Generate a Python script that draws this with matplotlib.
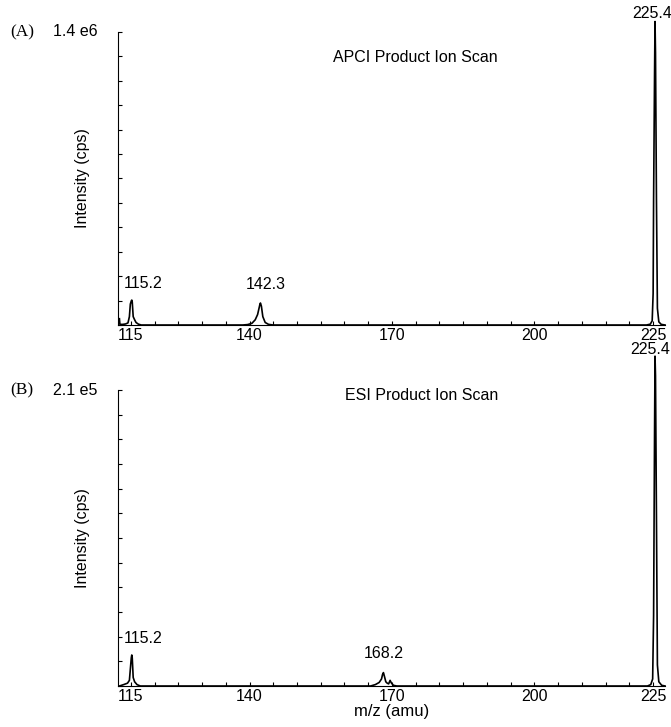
import numpy as np
import matplotlib
matplotlib.use('Agg')
import matplotlib.pyplot as plt
from matplotlib.ticker import MultipleLocator

# spectrum A: APCI product ion scan (m/z, intensity in cps)
mz_apci = [112.6, 112.7, 113.3, 113.9, 114.4, 114.7, 114.9, 115.1, 115.2, 115.3, 115.5, 115.8,
           116.1, 116.6, 117.2, 138.6, 139.6, 140.5, 141.2, 141.7, 142.0, 142.2, 142.3,
           142.5, 142.8, 143.3, 144.0, 145.0, 223.6, 224.4, 224.8, 225.0, 225.1, 225.3,
           225.4, 225.5, 225.7, 225.9, 226.2, 226.7, 227.5]
int_apci = [3e4, 3e3, 3e3, 5e3, 1e4, 4e4, 1.0e5, 1.15e5, 1.19e5, 1.1e5, 4e4, 2.5e4,
            1.2e4, 4e3, 0, 0, 2e3, 8e3, 2.5e4, 5e4, 8e4, 1.0e5, 1.05e5,
            9e4, 4e4, 1.2e4, 3e3, 0, 0, 4e3, 2e4, 1.5e5, 6e5, 1.2e6,
            1.45e6, 1.3e6, 6e5, 8e4, 1.5e4, 3e3, 0]

# spectrum B: ESI product ion scan
mz_esi = [112.6, 113.5, 114.3, 114.7, 114.9, 115.1, 115.2, 115.3, 115.5, 115.8, 116.3,
          117.0, 165.5, 166.5, 167.3, 167.8, 168.0, 168.2, 168.4, 168.7, 169.0, 169.3,
          169.6, 169.9, 170.3, 171.0, 223.8, 224.5, 224.9, 225.1, 225.3, 225.4, 225.5,
          225.7, 225.9, 226.2, 226.8, 227.5]
int_esi = [0, 1e3, 2e3, 4e3, 1.2e4, 2.0e4, 2.2e4, 2.0e4, 6e3, 3e3, 1e3,
           0, 0, 1e3, 2.5e3, 5e3, 8e3, 9.5e3, 7e3, 3e3, 2e3, 1.5e3,
           4e3, 2e3, 500, 0, 0, 1e3, 5e3, 5e4, 1.8e5, 2.34e5, 2.2e5,
           1.2e5, 1.5e4, 3e3, 500, 0]

# labelled peaks: (m/z, intensity, text, pixel offset x, pixel offset y)
peaks_apci = [(115.2, 1.19e5, '115.2', 11, 12), (142.3, 1.05e5, '142.3', 5, 14),
              (225.4, 1.45e6, '225.4', -3, 4)]
peaks_esi = [(115.2, 2.2e4, '115.2', 11, 12), (168.2, 9.5e3, '168.2', 0, 15),
             (225.4, 2.34e5, '225.4', -5, 2)]

xticks = [115, 140, 170, 200, 225]
W, H = 671, 727

plt.rcParams['font.family'] = ['Liberation Sans', 'DejaVu Sans']
fig = plt.figure(figsize=(W / 100, H / 100), dpi=100)


def make_ax(top, bottom, mz, inten, ymax, peaks, title, title_xy, tag, scale):
    left, right = 118, 665
    ax = fig.add_axes([left / W, (H - bottom) / H, (right - left) / W, (bottom - top) / H])
    ax.plot(mz, inten, color='black', lw=1.2, clip_on=False)
    ax.set_xlim(112.3, 227.5)
    ax.set_ylim(0, ymax)
    ax.spines['top'].set_visible(False)
    ax.spines['right'].set_visible(False)
    ax.set_xticks(xticks)
    ax.xaxis.set_minor_locator(MultipleLocator(5))
    ax.yaxis.set_major_locator(MultipleLocator(ymax / 12))
    ax.set_yticklabels([])
    ax.tick_params(direction='in', length=3, width=0.8, labelsize=11.5, pad=2)
    ax.tick_params(which='minor', direction='in', length=3, width=0.8)
    ax.set_ylabel('Intensity (cps)', fontsize=11.5)
    ax.yaxis.set_label_coords(-28 / (right - left), 0.5)
    for x, y, txt, dx, dy in peaks:
        ax.annotate(txt, (x, y), xytext=(dx, dy), textcoords='offset pixels',
                    ha='center', va='baseline', fontsize=11.5, annotation_clip=False)
    fig.text(title_xy[0] / W, 1 - title_xy[1] / H, title, fontsize=11.5,
             ha='center', va='center')
    fig.text(10 / W, 1 - top / H, tag, family='Liberation Serif', fontsize=12.5,
             ha='left', va='center')
    fig.text(53 / W, 1 - top / H, scale, fontsize=11.5, ha='left', va='center')
    return ax


ax1 = make_ax(32, 325, mz_apci, int_apci, 1.4e6, peaks_apci,
              'APCI Product Ion Scan', (415, 58), '(A)', '1.4 e6')
ax2 = make_ax(390, 686, mz_esi, int_esi, 2.1e5, peaks_esi,
              'ESI Product Ion Scan', (422, 396), '(B)', '2.1 e5')
ax2.set_xlabel('m/z (amu)', fontsize=12, labelpad=0)

fig.savefig('out.png', dpi=100)
